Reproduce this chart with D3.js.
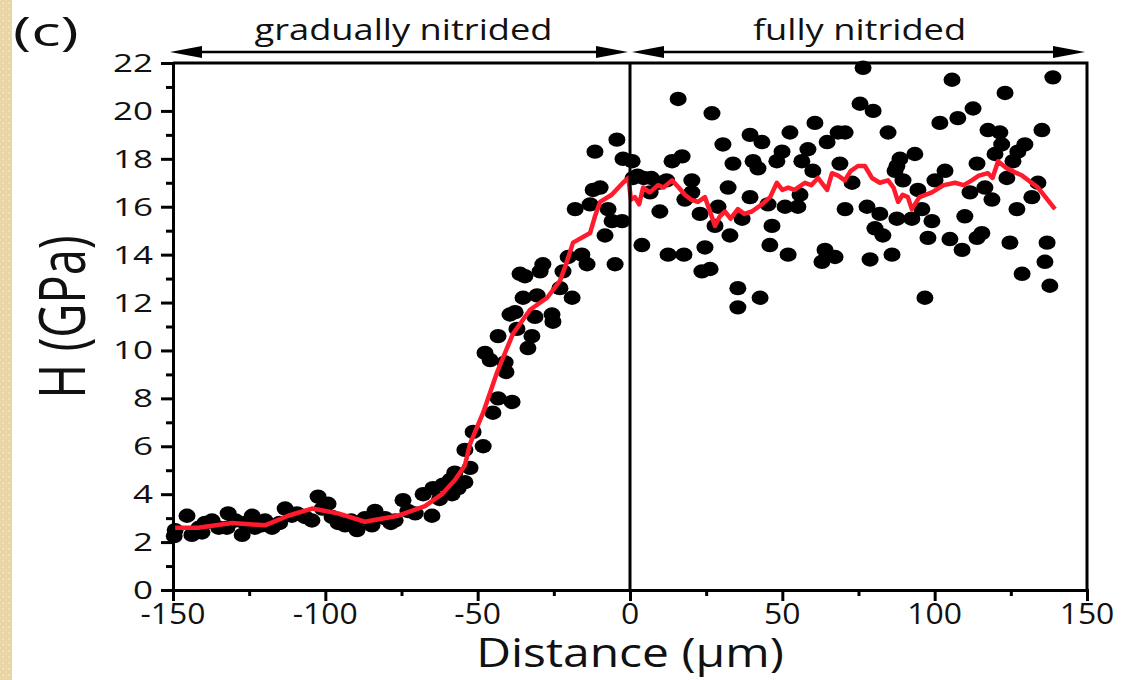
<!DOCTYPE html>
<html>
<head>
<meta charset="utf-8">
<script src="https://cdn.jsdelivr.net/npm/d3@7"></script>
<style>
  body { margin: 0; background: #fff; }
  text { font-family: "Open Sans", sans-serif; fill: #111; }
</style>
</head>
<body>
<script>
// measured points, gradually nitrided zone (x < 0)
var gradX = [-149.6,-149.3,-145.4,-143.8,-141.5,-140.5,-139.5,-137.2,-135,-132.3,-131.9,-129.5,-127.3,-126.4,-124,-123.1,-121,-119.8,-117.5,-115,
  -113.2,-111,-109.3,-106.7,-104.4,-102.4,-101,-99.1,-97.8,-95.8,-93.5,-91.5,-89.6,-87,-84.7,-83.7,-80.4,-78.5,-77.1,-74.5,
  -72.9,-70.5,-67.9,-65,-64.7,-62.5,-61.4,-59,-58.4,-56.4,-54.2,-57.5,-52.5,-54.2,-48.2,-51.5,-45,-43.3,-38.7,-41,
  -40.7,-47.6,-45.9,-43.3,-37.1,-32.2,-33.5,-39.4,-37.7,-31.2,-25.6,-25.3,-35.1,-30.5,-23,-19,-36.1,-34.5,-28.6,-29.5,
  -22,-20.3,-15.8,-14.1,-4.9,-8.2,-5.9,-2.6,-18,-13.1,-7.2,-12.1,-9.8,-11.5,-4.3,-2.3];
var gradY = [2.25,2.5,3.1,2.3,2.6,2.4,2.8,2.9,2.6,2.6,3.2,2.9,2.3,2.8,3.1,2.6,2.7,2.9,2.6,2.8,
  3.4,3.1,3.2,3.05,2.9,3.9,3.4,3.6,3.05,2.8,2.7,2.9,2.5,3.0,2.7,3.3,3.0,2.8,2.9,3.75,
  3.3,3.2,4.0,3.1,4.25,3.8,4.4,4.6,4.0,4.25,4.5,4.9,5.1,5.85,6.0,6.6,7.4,8.0,7.85,9.5,
  9.1,9.9,9.6,10.6,10.9,10.6,10.1,11.5,11.6,11.4,11.5,11.2,12.2,12.3,12.6,12.2,13.2,13.1,13.6,13.3,
  13.3,13.9,14.0,13.6,13.6,14.8,15.4,15.4,15.9,16.1,15.9,16.7,16.8,18.3,18.8,18.0];

// measured points, fully nitrided zone (x >= 0)
var fullX = [0.7,1,2.5,4.5,7,9.5,12,3.9,6.6,9.8,12.5,13.8,15.8,17.1,17.7,18,20.3,20.3,23,23.6,
  24.6,26.3,26.9,27.9,28.9,30.5,32.2,32.8,33.8,35.4,35.4,36.8,39.4,39.4,40.4,42,42.7,43.3,45.3,45.9,
  46.6,48.2,49.9,50.9,51.9,52.5,55.1,55.8,56.4,58.4,60,60.7,63,64,64.7,67.3,68.3,68.9,70.6,70.6,
  72.9,75.5,76.5,77.8,78.8,79.8,80.4,82,83,84.7,86,87,87.6,87.6,88.6,89.6,92.5,93.5,94.5,95.8,
  96.8,97.8,99.1,100.1,101.7,103.4,105,105.7,107.6,109,109.9,111.6,112.6,113.9,113.9,115.5,116.5,117.5,118.8,119.8,
  121.4,122,123.1,123.7,124.7,125.7,127,127.3,128.7,129.6,131.9,133.9,135.2,136.2,136.9,137.8,138.8];
var fullY = [17.9,17.2,17.3,17.2,17.2,17.0,17.1,14.4,16.6,15.8,14.0,17.9,20.5,18.1,14.0,16.3,17.1,16.6,15.7,13.3,
  14.3,13.4,19.9,15.2,16.0,18.6,16.8,14.8,17.8,12.6,11.8,15.5,19.0,16.4,17.9,17.6,12.2,18.7,16.1,14.4,
  15.2,17.9,18.3,16.0,14.0,19.1,16.0,16.5,17.9,18.4,17.5,19.5,13.7,14.2,18.7,13.9,19.1,17.8,19.1,15.9,
  17.0,20.3,21.8,16.0,13.8,20.0,15.1,15.7,14.8,19.1,14.0,17.5,17.7,15.5,18.0,17.1,15.5,18.2,16.7,15.9,
  12.2,14.7,15.4,17.1,19.5,17.5,14.65,21.3,19.7,14.2,15.6,16.6,20.1,17.8,14.7,14.9,16.8,19.2,16.3,18.2,
  19.1,18.6,20.75,17.2,14.5,17.9,15.9,18.3,13.2,18.6,16.4,17.0,19.2,13.7,14.5,12.7,21.4];

// red smoothed curve
var fitX = [-149.3,-141.8,-130.6,-119.8,-112.2,-104.4,-95.8,-87,-76.1,-67.3,-61.7,-57.4,-54.2,-52.5,-48.2,-43.6,-38.4,-32.8,-27.2,-23,
  -21,-18.7,-13.1,-11.5,-9.8,-6,-2.3,-0.5,0.3,1.6,3,4.3,6.5,9.2,11,13.8,16,18,20,22.3,
  24.6,26,27.9,29.5,31.2,33,35.4,37.5,40,43.3,46,48.2,50,51.9,54,57.4,59.5,61.7,63.5,64.7,
  66.3,68.3,70.5,72.5,74.8,77.1,79.4,82,84.7,86.5,88,89.5,91.2,92.5,95,99.1,103,106.7,109.5,112.2,
  114.5,117.5,119,120.8,123.7,128.7,133.9,139.5];
var fitY = [2.6,2.6,2.8,2.7,3.1,3.4,3.2,2.85,3.1,3.5,4.0,4.6,5.2,6.1,7.4,9.1,10.7,11.7,12.2,12.9,
  13.6,14.5,14.9,15.6,16.2,16.5,17.0,17.2,16.3,16.4,16.1,16.8,16.6,16.9,16.8,17.1,16.8,16.5,16.3,16.2,
  16.4,15.9,15.2,15.6,15.8,15.5,15.9,15.7,15.8,16.1,16.4,17.0,16.7,16.8,16.7,17.0,16.9,17.2,16.9,16.7,
  17.4,17.3,17.1,17.5,17.7,17.7,17.2,17.0,17.1,16.8,16.2,16.5,16.4,15.9,16.4,16.6,16.9,17.0,16.9,17.1,
  17.3,17.4,17.2,17.9,17.6,17.3,16.8,15.9];

var xMajor = [-150,-100,-50,0,50,100,150];
var xMinor = [-125,-75,-25,25,75,125];
var yMajor = [0,2,4,6,8,10,12,14,16,18,20,22];
var yMinor = [1,3,5,7,9,11,13,15,17,19,21];

var width = 1125, height = 680;
var margin = {top: 63, right: 38, bottom: 90, left: 173};

var svg = d3.select("body").append("svg")
  .attr("width", width)
  .attr("height", height);

// beige strip at the left edge
var defs = svg.append("defs");
var pat = defs.append("pattern")
  .attr("id", "beige")
  .attr("width", 6).attr("height", 6)
  .attr("patternUnits", "userSpaceOnUse");
pat.append("rect").attr("width", 6).attr("height", 6).attr("fill", "#f1e0b8");
pat.append("rect").attr("x", 1).attr("y", 1).attr("width", 4).attr("height", 4)
  .attr("fill", "none").attr("stroke", "#e2cc96").attr("stroke-width", 1);
svg.append("rect").attr("x", 0).attr("y", 0).attr("width", 12).attr("height", height)
  .attr("fill", "url(#beige)");

var x = d3.scaleLinear().domain([-150, 150]).range([margin.left, width - margin.right]);
var y = d3.scaleLinear().domain([0, 22]).range([height - margin.bottom, margin.top]);

// stretched text helper
function label(txt, px, py, size, sx, anchor, rot) {
  var t = "translate(" + px + "," + py + ") scale(" + sx + ",1)";
  if (rot) t = "translate(" + px + "," + py + ") rotate(" + rot + ") scale(1," + sx + ")";
  return svg.append("text")
    .attr("transform", t)
    .attr("text-anchor", anchor)
    .style("font-size", size + "px")
    .text(txt);
}

// dots
var pts = gradX.map(function(d, i) { return [d, gradY[i]]; })
  .concat(fullX.map(function(d, i) { return [d, fullY[i]]; }));

svg.append("g").selectAll("ellipse")
  .data(pts)
  .enter()
  .append("ellipse")
  .attr("cx", function(d) { return x(d[0]); })
  .attr("cy", function(d) { return y(d[1]); })
  .attr("rx", 8.5)
  .attr("ry", 7.2)
  .attr("fill", "#000");

// red curve
var line = d3.line()
  .x(function(d) { return x(d[0]); })
  .y(function(d) { return y(d[1]); });
svg.append("path")
  .datum(fitX.map(function(d, i) { return [d, fitY[i]]; }))
  .attr("d", line)
  .attr("fill", "none")
  .attr("stroke", "#ff1a2c")
  .attr("stroke-width", 4.5)
  .attr("stroke-linejoin", "round");

// frame (top, right) and x = 0 divider
svg.append("path")
  .attr("d", "M" + x(-150) + "," + y(22) + "H" + x(150) + "V" + y(0))
  .attr("fill", "none").attr("stroke", "#000").attr("stroke-width", 3);
svg.append("line")
  .attr("x1", x(0)).attr("x2", x(0)).attr("y1", y(22)).attr("y2", y(0))
  .attr("stroke", "#000").attr("stroke-width", 3);

// axes
var gx = svg.append("g").attr("transform", "translate(0," + y(0) + ")");
gx.call(d3.axisBottom(x).tickValues(xMajor).tickSize(11).tickFormat(""));
gx.append("g").call(d3.axisBottom(x).tickValues(xMinor).tickSize(6).tickFormat(""))
  .select(".domain").remove();
var gy = svg.append("g").attr("transform", "translate(" + x(-150) + ",0)");
gy.call(d3.axisLeft(y).tickValues(yMajor).tickSize(12).tickFormat(""));
gy.append("g").call(d3.axisLeft(y).tickValues(yMinor).tickSize(7).tickFormat(""))
  .select(".domain").remove();
svg.selectAll(".domain").attr("stroke-width", 3);
svg.selectAll(".tick line").attr("stroke-width", 3);

xMajor.forEach(function(v) {
  label(v, x(v), y(0) + 34, 29, 1.1, "middle");
});
yMajor.forEach(function(v) {
  label(v, x(-150) - 20, y(v) + 9, 25, 1.4, "end");
});

// axis titles
label("Distance (\u03bcm)", x(0), 667, 41, 1.17, "middle");
label("H (GPa)", 85, y(11.4), 47, 1.38, "middle", -90);
label("(c)", 13, 46, 41, 1.5, "start");

// region arrows
function arrow(x1, x2, yy) {
  svg.append("line")
    .attr("x1", x1 + 20).attr("x2", x2 - 20).attr("y1", yy).attr("y2", yy)
    .attr("stroke", "#000").attr("stroke-width", 2.5);
  svg.append("path")
    .attr("d", "M" + x1 + "," + yy + "L" + (x1 + 32) + "," + (yy - 6) + "L" + (x1 + 32) + "," + (yy + 6) + "Z");
  svg.append("path")
    .attr("d", "M" + x2 + "," + yy + "L" + (x2 - 32) + "," + (yy - 6) + "L" + (x2 - 32) + "," + (yy + 6) + "Z");
}
arrow(x(-150) - 3, x(0) - 2, 52);
arrow(x(0) + 2, x(150) - 2, 52);

label("gradually nitrided", (x(-150) + x(0)) / 2 + 2, 40, 29, 1.25, "middle");
label("fully nitrided", (x(0) + x(150)) / 2 + 1, 40, 29, 1.25, "middle");
</script>
</body>
</html>
